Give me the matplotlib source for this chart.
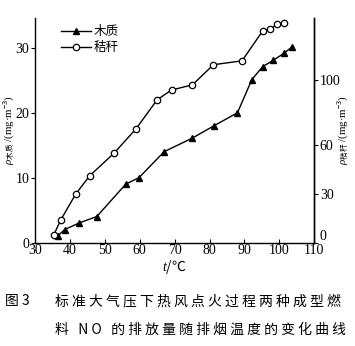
import matplotlib
matplotlib.use("Agg")
import matplotlib.pyplot as plt

plt.rcParams['font.family'] = ['Liberation Serif', 'Noto Sans CJK SC', 'DejaVu Sans']
plt.rcParams['mathtext.fontset'] = 'custom'
plt.rcParams['mathtext.rm'] = 'Noto Sans CJK SC'
plt.rcParams['mathtext.it'] = 'Liberation Serif:italic'
plt.rcParams['mathtext.bf'] = 'Liberation Serif:bold'

# Data
wood_t = [36.5, 38.5, 42.6, 47.7, 56.0, 59.8, 67.0, 75.1, 81.3, 88.0, 92.1, 95.2, 98.3, 101.4, 103.5]
wood_c = [1.0, 2.0, 3.0, 4.0, 9.0, 10.0, 14.0, 16.1, 18.0, 20.0, 25.1, 27.1, 28.1, 29.2, 30.1]
straw_t = [35.4, 37.4, 41.7, 45.7, 52.7, 58.9, 65.0, 69.1, 75.1, 81.1, 89.3, 95.2, 97.4, 99.3, 101.4]
straw_c = [1.2, 3.5, 7.5, 10.3, 13.8, 17.5, 22.0, 23.5, 24.3, 27.4, 28.0, 32.6, 32.9, 33.6, 33.8]
x_ticks = [30, 40, 50, 60, 70, 80, 90, 100, 110]
left_ticks = [0, 10, 20, 30]
right_ticks = [0, 30, 60, 100]
labels = ['木质', '秸秆']
caption1 = '标准大气压下热风点火过程两种成型燃'
caption2 = '料 NO 的排放量随排烟温度的变化曲线'

W, H = 355, 346
fig = plt.figure(figsize=(W / 100, H / 100), dpi=100)
ax = fig.add_axes([35 / W, 1 - 242.5 / H, (314.3 - 35) / W, (242.5 - 18) / H])
ax.set_xlim(30, 110)
ax.set_ylim(0, 34.6)

ax.plot(wood_t, wood_c, '-', color='black', lw=1.0, marker='^', ms=3.8,
        mfc='black', mec='black', label=labels[0])
ax.plot(straw_t, straw_c, '-', color='black', lw=1.0, marker='o', ms=4.6,
        mfc='white', mec='black', mew=0.9, label=labels[1])

ax.set_xticks(x_ticks)
ax.set_yticks(left_ticks)
ax.tick_params(axis='x', direction='in', length=3, width=0.8, labelsize=10, pad=1)
ax.tick_params(axis='y', direction='out', length=3, width=0.8, labelsize=10, pad=1)
ax.spines['top'].set_visible(False)
for s in ['left', 'bottom', 'right']:
    ax.spines[s].set_linewidth(1.0)

ax2 = ax.twinx()
ax2.set_ylim(0, 34.6 * 4)
ax2.set_yticks(right_ticks)
ax2.tick_params(axis='y', direction='out', length=3, width=0.8, labelsize=10, pad=1)
for s in ['top', 'left', 'bottom']:
    ax2.spines[s].set_visible(False)
ax2.spines['right'].set_linewidth(1.0)
for lbl in ax2.get_yticklabels():
    if lbl.get_text() == '0':
        lbl.set_va('bottom')

ax.set_ylabel(r'$\rho_{\mathrm{木质}}$ /(mg·m$^{-3}$)', fontsize=7.8)
ax.yaxis.set_label_coords(-0.066, 0.5)
ax2.set_ylabel(r'$\rho_{\mathrm{秸秆}}$ /(mg·m$^{-3}$)', fontsize=7.8, rotation=90)
ax2.yaxis.set_label_coords(1.077, 0.5)
ax.set_xlabel(r'$t/\mathrm{℃}$', fontsize=10, labelpad=1)

leg = ax.legend(loc='upper left', bbox_to_anchor=(0.065, 1.0), frameon=False,
                handlelength=2.4, handletextpad=0.2, labelspacing=0.2,
                borderaxespad=0.2, prop={'family': ['Noto Sans CJK SC'], 'size': 9})

cap_font = ['Noto Sans CJK SC', 'DejaVu Sans']
fig.text(5 / W, 1 - 301 / H, '图 3', fontsize=10, family=cap_font, va='center', ha='left')
fig.text(55 / W, 1 - 301 / H, ' '.join(caption1), fontsize=10, family=cap_font,
         va='center', ha='left')
fig.text(55 / W, 1 - 330 / H, ' '.join(caption2.replace(' N O ', 'NO')), fontsize=10,
         family=cap_font, va='center', ha='left')

fig.savefig('out.png', dpi=100)
